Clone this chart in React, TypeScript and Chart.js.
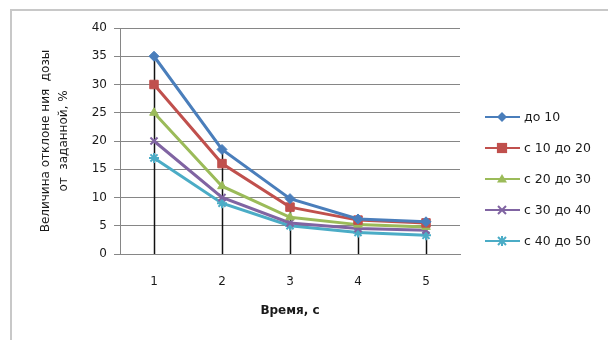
import React, { useEffect, useRef } from "react";
import { Chart, registerables } from "chart.js";

Chart.register(...registerables);

const categories = ["1", "2", "3", "4", "5"];
const seriesNames = ["до 10", "с 10 до 20", "с 20 до 30", "с 30 до 40", "с 40 до 50"];
const s1 = [35, 18.5, 9.8, 6.2, 5.7];
const s2 = [30, 16, 8.3, 6, 5.5];
const s3 = [25, 12, 6.5, 5.2, 4.8];
const s4 = [20, 10, 5.5, 4.5, 4.2];
const s5 = [17, 9, 5, 3.8, 3.3];
const yTitleLines = ["Величина отклоне ния  дозы", "от  заданной, %"];
const xTitle = "Время, с";

const colors = ["#4A7EBB", "#C0504D", "#9BBB59", "#8064A2", "#4BACC6"];
const pointStyles = ["rectRot", "rect", "triangle", "crossRot", "star"];
const pointRadii = [5, 6, 5, 5, 5];

const FONT = "'DejaVu Sans', sans-serif";

function drawMarker(ctx: CanvasRenderingContext2D, style: string, r: number, x: number, y: number) {
  ctx.beginPath();
  if (style === "rectRot") {
    ctx.moveTo(x, y - r);
    ctx.lineTo(x + r, y);
    ctx.lineTo(x, y + r);
    ctx.lineTo(x - r, y);
    ctx.closePath();
    ctx.fill();
  } else if (style === "rect") {
    const s = r * 0.85;
    ctx.rect(x - s, y - s, 2 * s, 2 * s);
    ctx.fill();
  } else if (style === "triangle") {
    ctx.moveTo(x, y - r);
    ctx.lineTo(x + r, y + r * 0.7);
    ctx.lineTo(x - r, y + r * 0.7);
    ctx.closePath();
    ctx.fill();
  } else if (style === "crossRot") {
    const s = r * 0.8;
    ctx.moveTo(x - s, y - s);
    ctx.lineTo(x + s, y + s);
    ctx.moveTo(x + s, y - s);
    ctx.lineTo(x - s, y + s);
    ctx.stroke();
  } else {
    const s = r * 0.8;
    ctx.moveTo(x - s, y - s);
    ctx.lineTo(x + s, y + s);
    ctx.moveTo(x + s, y - s);
    ctx.lineTo(x - s, y + s);
    ctx.moveTo(x, y - r);
    ctx.lineTo(x, y + r);
    ctx.stroke();
  }
}

const customPlugin = {
  id: "custom",
  beforeDatasetsDraw(chart: any) {
    const ctx = chart.ctx;
    const x = chart.scales.x;
    const y = chart.scales.y;
    ctx.save();
    ctx.strokeStyle = "#111";
    ctx.lineWidth = 1.5;
    categories.forEach((_, i) => {
      const vals = chart.data.datasets.map((d: any) => d.data[i]);
      const mx = Math.max(...vals);
      const px = Math.round(x.getPixelForValue(i)) + 0.5;
      ctx.beginPath();
      ctx.moveTo(px, y.getPixelForValue(mx));
      ctx.lineTo(px, y.getPixelForValue(0));
      ctx.stroke();
    });
    ctx.restore();
  },
  afterDraw(chart: any) {
    const ctx = chart.ctx;
    const area = chart.chartArea;
    ctx.save();
    ctx.strokeStyle = "#c8c8c8";
    ctx.lineWidth = 2;
    ctx.strokeRect(11, 10, 700, 400);

    ctx.fillStyle = "#1a1a1a";
    ctx.font = `12px ${FONT}`;
    ctx.textAlign = "center";
    ctx.textBaseline = "middle";
    const cy = (area.top + area.bottom) / 2;
    const xs = [46, 64];
    yTitleLines.forEach((t, i) => {
      ctx.save();
      ctx.translate(xs[i], cy);
      ctx.rotate(-Math.PI / 2);
      ctx.fillText(t, 0, 0);
      ctx.restore();
    });

    ctx.font = `bold 12px ${FONT}`;
    ctx.fillText(xTitle, (area.left + area.right) / 2, 311);

    ctx.font = `12.5px ${FONT}`;
    ctx.textAlign = "left";
    chart.data.datasets.forEach((d: any, i: number) => {
      const ly = 117 + i * 31;
      ctx.strokeStyle = d.borderColor;
      ctx.lineWidth = 2;
      ctx.beginPath();
      ctx.moveTo(485, ly);
      ctx.lineTo(520, ly);
      ctx.stroke();
      ctx.fillStyle = d.backgroundColor;
      ctx.strokeStyle = d.borderColor;
      ctx.lineWidth = 2;
      drawMarker(ctx, pointStyles[i], pointRadii[i], 502, ly);
      ctx.fillStyle = "#1a1a1a";
      ctx.fillText(d.label, 524, ly + 1);
    });
    ctx.restore();
  },
};

export default function App() {
  const ref = useRef<HTMLCanvasElement>(null);
  useEffect(() => {
    if (!ref.current) return;
    const all = [s1, s2, s3, s4, s5];
    const chart = new Chart(ref.current, {
      type: "line",
      data: {
        labels: categories,
        datasets: all.map((d, i) => ({
          label: seriesNames[i],
          data: d,
          borderColor: colors[i],
          backgroundColor: colors[i],
          borderWidth: 3,
          pointStyle: pointStyles[i] as any,
          pointRadius: pointRadii[i],
          pointBorderWidth: i >= 3 ? 2 : 1,
          tension: 0,
        })),
      },
      options: {
        animation: false,
        responsive: false,
        layout: { padding: { top: 28, right: 148, left: 0, bottom: 0 } },
        plugins: {
          legend: { display: false },
          tooltip: { enabled: false },
        },
        scales: {
          x: {
            type: "category",
            offset: true,
            grid: { display: false, drawTicks: false },
            border: { display: true, color: "#868686", width: 1 },
            ticks: { padding: 21, color: "#1a1a1a", font: { family: FONT, size: 12 }, maxRotation: 0 },
            afterFit: (s: any) => {
              s.height = 86;
            },
          },
          y: {
            min: 0,
            max: 40,
            ticks: { stepSize: 5, padding: 7, color: "#1a1a1a", font: { family: FONT, size: 12 } },
            grid: { color: "#868686", lineWidth: 1, tickLength: 6 },
            border: { display: true, color: "#868686", width: 1 },
            afterFit: (s: any) => {
              s.width = 120;
            },
          },
        },
      },
      plugins: [customPlugin],
    });
    return () => chart.destroy();
  }, []);
  return (
    <div style={{ position: "absolute", left: 0, top: 0, width: 608, height: 340, background: "#fff" }}>
      <canvas ref={ref} width={608} height={340} style={{ display: "block" }} />
    </div>
  );
}
